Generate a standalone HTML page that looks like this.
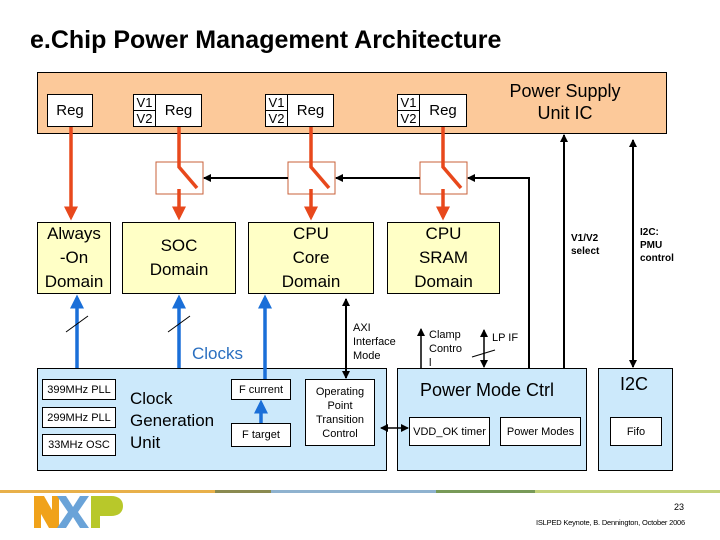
<!DOCTYPE html>
<html><head><style>
body{margin:0;width:720px;height:540px;background:#fff;position:relative;overflow:hidden;font-family:"Liberation Sans",sans-serif}
.a{position:absolute;box-sizing:border-box}
.bx{border:1px solid #000;background:#fff;display:flex;align-items:center;justify-content:center;text-align:center}
.dom{background:#ffffc6;font-size:17px;line-height:24px}
.blu{background:#cce9fb;border:1px solid #000}
.sm{font-size:11px}
.t{position:absolute;white-space:nowrap}
</style></head><body>
<div class="t" style="left:30px;top:26px;font-size:25px;font-weight:bold">e.Chip Power Management Architecture</div>
<div class="a" style="left:37px;top:72px;width:630px;height:62px;background:#fcc99a;border:1px solid #000"></div>
<div class="t" style="left:495px;top:80px;width:140px;text-align:center;font-size:18px;line-height:22px">Power Supply<br>Unit IC</div>
<div class="a bx" style="left:47px;top:94px;width:46px;height:33px;font-size:15px">Reg</div>
<div class="a bx" style="left:133px;top:94px;width:23px;height:33px;font-size:13px;line-height:15px;flex-direction:column">V1<div style="border-top:1px solid #000;width:100%">V2</div></div>
<div class="a bx" style="left:155px;top:94px;width:47px;height:33px;font-size:15px">Reg</div>
<div class="a bx" style="left:265px;top:94px;width:23px;height:33px;font-size:13px;line-height:15px;flex-direction:column">V1<div style="border-top:1px solid #000;width:100%">V2</div></div>
<div class="a bx" style="left:287px;top:94px;width:47px;height:33px;font-size:15px">Reg</div>
<div class="a bx" style="left:397px;top:94px;width:23px;height:33px;font-size:13px;line-height:15px;flex-direction:column">V1<div style="border-top:1px solid #000;width:100%">V2</div></div>
<div class="a bx" style="left:419px;top:94px;width:48px;height:33px;font-size:15px">Reg</div>

<div class="a bx dom" style="left:37px;top:222px;width:74px;height:72px">Always<br>-On<br>Domain</div>
<div class="a bx dom" style="left:122px;top:222px;width:114px;height:72px">SOC<br>Domain</div>
<div class="a bx dom" style="left:248px;top:222px;width:126px;height:72px">CPU<br>Core<br>Domain</div>
<div class="a bx dom" style="left:387px;top:222px;width:113px;height:72px">CPU<br>SRAM<br>Domain</div>

<div class="t" style="left:571px;top:232px;font-size:10px;font-weight:bold;line-height:13px">V1/V2<br>select</div>
<div class="t" style="left:640px;top:226px;font-size:10px;font-weight:bold;line-height:13px">I2C:<br>PMU<br>control</div>

<div class="a blu" style="left:37px;top:368px;width:350px;height:103px"></div>
<div class="a blu" style="left:397px;top:368px;width:190px;height:103px"></div>
<div class="a blu" style="left:598px;top:368px;width:75px;height:103px"></div>
<div class="a bx sm" style="left:42px;top:379px;width:74px;height:21px">399MHz PLL</div>
<div class="a bx sm" style="left:42px;top:407px;width:74px;height:21px">299MHz PLL</div>
<div class="a bx sm" style="left:42px;top:434px;width:74px;height:22px">33MHz OSC</div>
<div class="t" style="left:130px;top:388px;font-size:17px;line-height:22px">Clock<br>Generation<br>Unit</div>
<div class="a bx sm" style="left:231px;top:379px;width:60px;height:21px">F current</div>
<div class="a bx sm" style="left:231px;top:423px;width:60px;height:24px">F target</div>
<div class="a bx sm" style="left:305px;top:379px;width:70px;height:67px;line-height:14px">Operating<br>Point<br>Transition<br>Control</div>
<div class="t" style="left:420px;top:380px;font-size:18px">Power Mode Ctrl</div>
<div class="t" style="left:620px;top:374px;font-size:18px">I2C</div>
<div class="a bx sm" style="left:409px;top:417px;width:81px;height:29px">VDD_OK timer</div>
<div class="a bx sm" style="left:500px;top:417px;width:81px;height:29px">Power Modes</div>
<div class="a bx sm" style="left:610px;top:417px;width:52px;height:29px">Fifo</div>

<div class="t" style="left:192px;top:344px;font-size:17px;color:#2a6fc0">Clocks</div>
<div class="t sm" style="left:353px;top:321px;line-height:14px">AXI<br>Interface<br>Mode</div>
<div class="t sm" style="left:429px;top:328px;line-height:14px">Clamp<br>Contro<br>l</div>
<div class="t sm" style="left:492px;top:332px">LP IF</div>

<svg class="a" style="left:0;top:0" width="720" height="540">
<defs>
<marker id="r" markerWidth="4" markerHeight="4" refX="3" refY="2" orient="auto"><path d="M0,0L4,2L0,4z" fill="#e8481c"/></marker>
<marker id="b" markerWidth="4" markerHeight="4" refX="3" refY="2" orient="auto"><path d="M0,0L4,2L0,4z" fill="#1a6fd8"/></marker>
<marker id="k" markerWidth="8" markerHeight="8" refX="7" refY="4" orient="auto" markerUnits="userSpaceOnUse"><path d="M0,0L8,4L0,8z" fill="#000"/></marker>
<marker id="ks" markerWidth="8" markerHeight="8" refX="1" refY="4" orient="auto" markerUnits="userSpaceOnUse"><path d="M8,0L0,4L8,8z" fill="#000"/></marker>
</defs>
<g fill="none" stroke="#c8603a" stroke-width="1">
<rect x="156" y="162" width="47" height="32"/><rect x="288" y="162" width="47" height="32"/><rect x="420" y="162" width="47" height="32"/>
</g>
<g stroke="#e8481c" stroke-width="3.5" fill="none">
<line x1="71" y1="127" x2="71" y2="217" marker-end="url(#r)"/>
<path d="M179,127V167L197,188"/><line x1="179" y1="189" x2="179" y2="217" marker-end="url(#r)"/>
<path d="M311,127V167L329,188"/><line x1="311" y1="189" x2="311" y2="217" marker-end="url(#r)"/>
<path d="M443,127V167L461,188"/><line x1="443" y1="189" x2="443" y2="217" marker-end="url(#r)"/>
</g>
<g stroke="#000" stroke-width="2" fill="none">
<line x1="288" y1="178" x2="204" y2="178" marker-end="url(#k)"/>
<line x1="420" y1="178" x2="336" y2="178" marker-end="url(#k)"/>
<path d="M529,368V178H468" marker-end="url(#k)"/>
<line x1="564" y1="368" x2="564" y2="135" marker-end="url(#k)"/>
<line x1="633" y1="140" x2="633" y2="367" marker-end="url(#k)" marker-start="url(#ks)"/>
<line x1="346" y1="299" x2="346" y2="378" marker-end="url(#k)" marker-start="url(#ks)"/>
<line x1="381" y1="428" x2="408" y2="428" marker-end="url(#k)" marker-start="url(#ks)" stroke-width="1.5"/>
<line x1="421" y1="368" x2="421" y2="329" marker-end="url(#k)" stroke-width="1.5"/>
<line x1="484" y1="330" x2="484" y2="367" marker-end="url(#k)" marker-start="url(#ks)" stroke-width="1.5"/>
</g>
<g stroke="#1a6fd8" stroke-width="3.5">
<line x1="77" y1="368" x2="77" y2="298" marker-end="url(#b)"/>
<line x1="179" y1="368" x2="179" y2="298" marker-end="url(#b)"/>
<line x1="265" y1="379" x2="265" y2="298" marker-end="url(#b)"/>
<line x1="261" y1="423" x2="261" y2="403" marker-end="url(#b)"/>
</g>
<g stroke="#000" stroke-width="1">
<line x1="66" y1="332" x2="88" y2="316"/><line x1="168" y1="332" x2="190" y2="316"/><line x1="472" y1="357" x2="495" y2="350"/>
</g>
<rect x="0" y="490" width="215" height="3" fill="#e8b04a"/>
<rect x="215" y="490" width="56" height="3" fill="#8a8a50"/>
<rect x="271" y="490" width="165" height="3" fill="#8fb2cf"/>
<rect x="436" y="490" width="99" height="3" fill="#789a58"/>
<rect x="535" y="490" width="185" height="3" fill="#c4d27a"/>
<path d="M34,496h10l8,14v-14h7v32h-10l-8-14v14h-7z" fill="#f0a21a"/>
<path d="M57,496h9l7,11l7-11h9l-11,16l11,16h-9l-7-11l-7,11h-9l11-16z" fill="#6aa3d8"/>
<path d="M91,496h20c8,0,12,4,12,10s-4,10-12,10h-11v12h-9z" fill="#b8c82a"/>
</svg>
<div class="t" style="left:674px;top:502px;font-size:9px">23</div>
<div class="t" style="right:35px;top:518px;font-size:7.5px;letter-spacing:-0.2px">ISLPED Keynote, B. Dennington, October 2006</div>
</body></html>
